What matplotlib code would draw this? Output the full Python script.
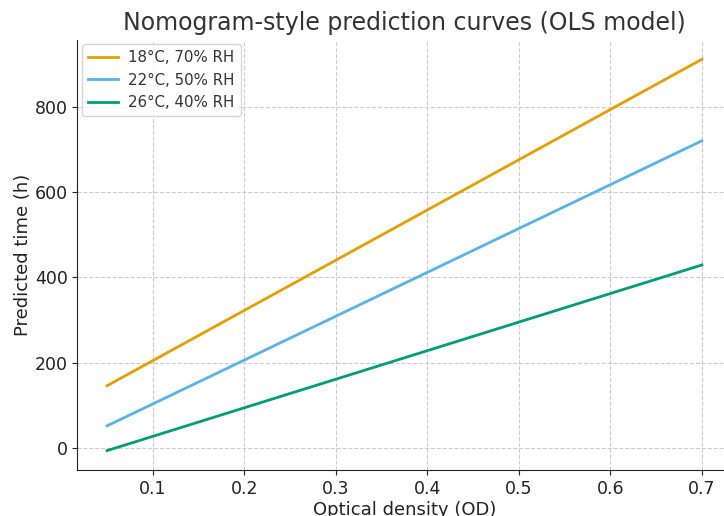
import numpy as np
import matplotlib
matplotlib.use("Agg")
import matplotlib.pyplot as plt

# OLS predictions at the ends of the optical density range
od = [0.05, 0.7]
labels = ["18°C, 70% RH", "22°C, 50% RH", "26°C, 40% RH"]
pred_18c = [146, 911]
pred_22c = [52, 720]
pred_26c = [-6, 429]
colors = ["#E69F00", "#56B4E9", "#009E73"]

fig = plt.figure(figsize=(7.24, 5.16), dpi=100)
ax = fig.add_axes([0.1068, 0.0888, 0.9037, 0.8342])

for y, lab, c in zip([pred_18c, pred_22c, pred_26c], labels, colors):
    ax.plot(od, y, color=c, lw=2, label=lab)

ax.set_title("Nomogram-style prediction curves (OLS model)", fontsize=17, color="#333333", pad=7)
ax.set_xlabel("Optical density (OD)", fontsize=13, color="#222222", labelpad=2)
ax.set_ylabel("Predicted time (h)", fontsize=13, color="#222222", labelpad=2)
ax.tick_params(labelsize=12.5, colors="#222222", length=3.5)
ax.grid(True, ls="--", lw=0.8, color="#cccccc")
ax.set_axisbelow(True)
for s in ["top", "right"]:
    ax.spines[s].set_visible(False)
ax.spines["left"].set_color("#222222")
ax.spines["bottom"].set_color("#222222")

leg = ax.legend(loc="upper left", fontsize=10.8, frameon=True, borderaxespad=0.3,
                handletextpad=0.7)
leg.get_frame().set_edgecolor("#cccccc")
for t in leg.get_texts():
    t.set_color("#333333")

fig.savefig("out.png", dpi=100)
